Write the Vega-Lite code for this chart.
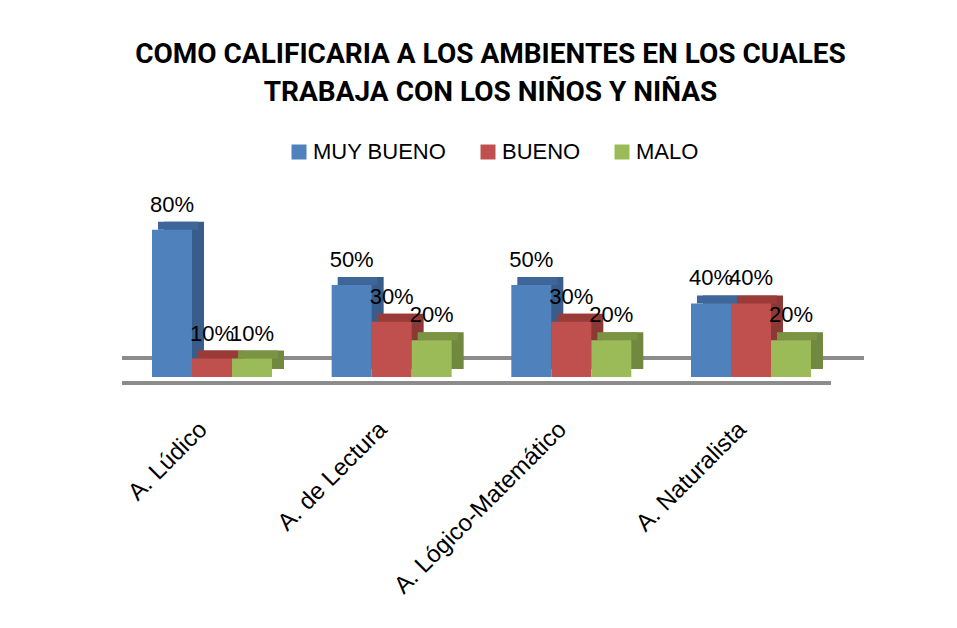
{
  "$schema": "https://vega.github.io/schema/vega-lite/v6.json",
  "autosize": {"type": "none"},
  "padding": {"left": 122, "top": 193, "right": 116, "bottom": 251},
  "width": 719,
  "height": 184,
  "background": "white",
  "config": {"view": {"stroke": null}},
  "title": {
    "text": ["COMO CALIFICARIA A LOS AMBIENTES EN LOS CUALES", "TRABAJA CON LOS NIÑOS Y NIÑAS"],
    "font": "Roboto, sans-serif",
    "fontSize": 28,
    "fontWeight": "bold",
    "lineHeight": 38,
    "color": "black",
    "anchor": "middle",
    "dx": 9,
    "offset": 34
  },
  "data": {
    "values": [
      {"ambiente": "A. Lúdico", "calificacion": "MUY BUENO", "valor": 0.8},
      {"ambiente": "A. Lúdico", "calificacion": "BUENO", "valor": 0.1},
      {"ambiente": "A. Lúdico", "calificacion": "MALO", "valor": 0.1},
      {"ambiente": "A. de  Lectura", "calificacion": "MUY BUENO", "valor": 0.5},
      {"ambiente": "A. de  Lectura", "calificacion": "BUENO", "valor": 0.3},
      {"ambiente": "A. de  Lectura", "calificacion": "MALO", "valor": 0.2},
      {"ambiente": "A. Lógico-Matemático", "calificacion": "MUY BUENO", "valor": 0.5},
      {"ambiente": "A. Lógico-Matemático", "calificacion": "BUENO", "valor": 0.3},
      {"ambiente": "A. Lógico-Matemático", "calificacion": "MALO", "valor": 0.2},
      {"ambiente": "A. Naturalista", "calificacion": "MUY BUENO", "valor": 0.4},
      {"ambiente": "A. Naturalista", "calificacion": "BUENO", "valor": 0.4},
      {"ambiente": "A. Naturalista", "calificacion": "MALO", "valor": 0.2}
    ]
  },
  "encoding": {
    "x": {
      "field": "ambiente",
      "type": "nominal",
      "sort": null,
      "scale": {"paddingInner": 0.332, "paddingOuter": 0.167},
      "axis": {
        "title": null,
        "domain": false,
        "ticks": false,
        "labelAngle": -45,
        "labelFont": "Liberation Sans, sans-serif",
        "labelFontSize": 24,
        "labelColor": "black",
        "labelPadding": 40,
        "labelOffset": -17,
        "labelLimit": 0
      }
    },
    "y": {
      "field": "valor",
      "type": "quantitative",
      "scale": {"domain": [0, 1]},
      "axis": null
    }
  },
  "layer": [
    {
      "mark": {"type": "rule", "stroke": "#8c8c8c", "strokeWidth": 3, "yOffset": -19, "xOffset": 23, "x2Offset": 25},
      "encoding": {"x": null, "y": {"datum": 0}}
    },
    {
      "mark": {"type": "rule", "stroke": "#8c8c8c", "strokeWidth": 3, "yOffset": 6, "xOffset": -10, "x2Offset": -9},
      "encoding": {"x": null, "y": {"datum": 0}}
    },
    {
      "mark": {"type": "bar", "yOffset": -8, "y2Offset": -8},
      "encoding": {
        "xOffset": {"field": "calificacion", "type": "nominal", "sort": ["MUY BUENO", "BUENO", "MALO"], "scale": {"range": [12, 132], "paddingInner": 0, "paddingOuter": 0}},
        "color": {
          "field": "calificacion",
          "type": "nominal",
          "scale": {"domain": ["MUY BUENO", "BUENO", "MALO"], "range": ["#385d8a", "#8c3836", "#71893f"]},
          "legend": null
        }
      }
    },
    {
      "mark": {"type": "bar", "yOffset": -8, "y2Offset": 0},
      "encoding": {
        "xOffset": {"field": "calificacion", "type": "nominal", "sort": ["MUY BUENO", "BUENO", "MALO"], "scale": {"range": [6, 126], "paddingInner": 0, "paddingOuter": 0}},
        "y2": {"field": "valor"},
        "color": {
          "field": "calificacion",
          "type": "nominal",
          "scale": {"domain": ["MUY BUENO", "BUENO", "MALO"], "range": ["#3f6699", "#9a3b38", "#7a9444"]},
          "legend": null
        }
      }
    },
    {
      "mark": {"type": "bar"},
      "encoding": {
        "xOffset": {"field": "calificacion", "type": "nominal", "sort": ["MUY BUENO", "BUENO", "MALO"], "scale": {"paddingInner": 0, "paddingOuter": 0}},
        "color": {
          "field": "calificacion",
          "type": "nominal",
          "scale": {"domain": ["MUY BUENO", "BUENO", "MALO"], "range": ["#4f81bd", "#c0504d", "#9bbb59"]},
          "legend": {
            "title": null,
            "orient": "none",
            "legendX": 166,
            "legendY": -52,
            "direction": "horizontal",
            "symbolType": "square",
            "symbolSize": 225,
            "symbolStrokeWidth": 0,
            "labelFont": "Liberation Sans, sans-serif",
            "labelFontSize": 22,
            "labelColor": "black",
            "labelOffset": 3,
            "columnPadding": 30
          }
        }
      }
    },
    {
      "mark": {"type": "text", "baseline": "alphabetic", "dy": -18, "font": "Liberation Sans, sans-serif", "fontSize": 22, "color": "black"},
      "encoding": {
        "xOffset": {"field": "calificacion", "type": "nominal", "sort": ["MUY BUENO", "BUENO", "MALO"], "scale": {"range": [20, 100], "padding": 0}},
        "text": {"field": "valor", "type": "quantitative", "format": ".0%"}
      }
    }
  ],
  "resolve": {"scale": {"color": "independent", "xOffset": "independent"}}
}
